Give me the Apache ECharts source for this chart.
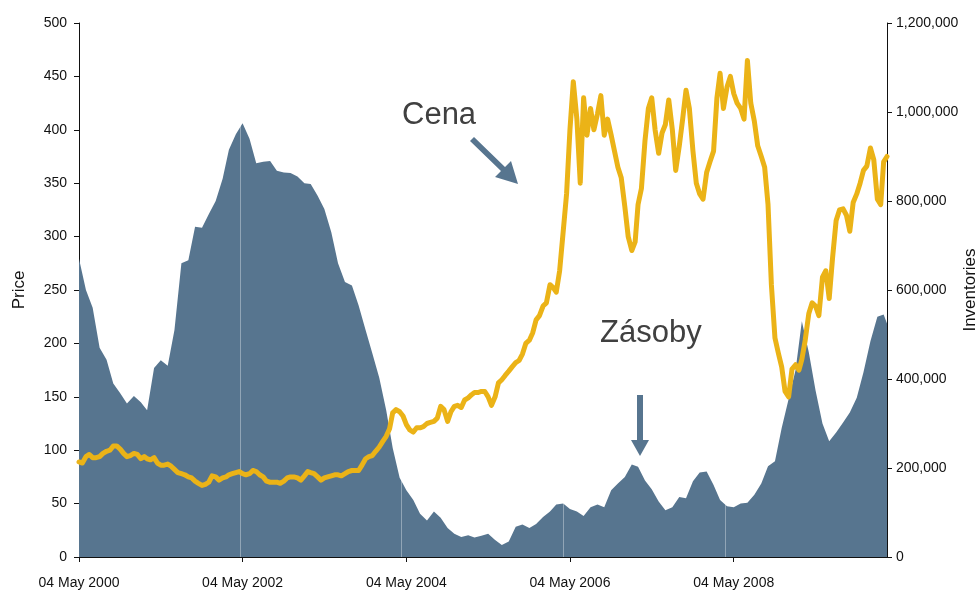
<!DOCTYPE html>
<html>
<head>
<meta charset="utf-8">
<script src="https://cdn.jsdelivr.net/npm/echarts@6/dist/echarts.min.js"></script>
<style>
  html, body { margin: 0; padding: 0; background: #fff; }
  #chart { width: 980px; height: 590px; }
</style>
</head>
<body>
<div id="chart"></div>
<script>
// price, sampled twice a month (4th and 19th) from 04 May 2000
const priceValues = [
  89, 88, 94, 96, 93, 93, 94, 97, 99, 100,
  104, 104, 101, 97, 94, 95, 97, 96, 92, 94,
  92, 91, 93, 88, 86, 86, 87, 85, 82, 79,
  78, 77, 75, 74, 71, 69, 67, 68, 70, 76,
  75, 72, 74, 75, 77, 78, 79, 80, 78, 77,
  78, 81, 80, 77, 75, 71, 70, 70, 70, 69,
  71, 74, 75, 75, 74, 72, 76, 80, 79, 78,
  75, 72, 74, 75, 76, 77, 77, 76, 78, 80,
  81, 81, 81, 86, 92, 94, 95, 99, 103, 108,
  113, 120, 135, 138, 136, 132, 124, 119, 117, 121,
  121, 122, 125, 126, 127, 130, 141, 138, 127, 136,
  141, 142, 140, 147, 149, 152, 154, 154, 155, 155,
  150, 142, 150, 163, 166, 170, 174, 178, 182, 184,
  190, 200, 203, 210, 222, 226, 235, 238, 255, 252,
  248, 268, 305, 340, 400, 445, 410, 350, 430, 395,
  420, 400, 415, 432, 395, 410, 395, 380, 365, 355,
  328, 300, 287, 295, 330, 345, 390, 420, 430, 400,
  378, 397, 405, 428, 400, 362, 385, 410, 437, 420,
  380, 350, 340, 335, 360, 370, 380, 430, 453, 420,
  440, 450, 434, 425, 420, 410, 465, 425, 408, 385,
  375, 365, 330, 255, 205, 191, 178, 155, 150, 176,
  180, 175, 185, 203, 228, 238, 235, 226, 262, 268,
  242, 280, 315, 325, 326, 320, 305, 332, 340, 350,
  362, 366, 383, 372, 335, 330, 370, 375
];

// inventories, monthly (4th) from 04 May 2000, last one 19 Mar 2010
const inventoryValues = [
  670000, 600000, 560000, 470000, 443000, 390000, 368000, 345000, 362000, 348000,
  330000, 425000, 442000, 430000, 510000, 660000, 667000, 742000, 740000, 770000,
  800000, 850000, 915000, 950000, 975000, 940000, 885000, 888000, 890000, 868000,
  864000, 863000, 855000, 840000, 838000, 812000, 782000, 730000, 660000, 618000,
  610000, 565000, 510000, 458000, 403000, 330000, 245000, 178000, 150000, 128000,
  97000, 82000, 102000, 88000, 65000, 52000, 45000, 49000, 44000, 48000,
  52000, 38000, 27000, 35000, 68000, 73000, 65000, 74000, 90000, 102000,
  118000, 120000, 108000, 102000, 92000, 112000, 118000, 112000, 150000, 165000,
  180000, 208000, 203000, 172000, 152000, 125000, 105000, 112000, 135000, 132000,
  170000, 190000, 192000, 162000, 128000, 114000, 112000, 120000, 122000, 140000,
  165000, 204000, 215000, 290000, 355000, 420000, 530000, 460000, 375000, 300000,
  260000, 280000, 302000, 325000, 358000, 415000, 485000, 540000, 545000, 525000
];

const tickDates = ['2000-05-04', '2002-05-04', '2004-05-04', '2006-05-04', '2008-05-04'];
const gridDates = ['2002-04-22', '2004-04-12', '2006-04-04', '2008-03-27'];
const axisStart = '2000-05-04';
const axisEnd = '2010-03-19';
const monthNames = ['Jan', 'Feb', 'Mar', 'Apr', 'May', 'Jun', 'Jul', 'Aug', 'Sep', 'Oct', 'Nov', 'Dec'];

function toTime(s) {
  const p = s.split('-').map(Number);
  return new Date(p[0], p[1] - 1, p[2]).getTime();
}

const priceDates = priceValues.map((v, k) =>
  new Date(2000, 4 + Math.floor(k / 2), k % 2 ? 19 : 4).getTime());
const inventoryDates = inventoryValues.map((v, m) =>
  m < inventoryValues.length - 1 ? new Date(2000, 4 + m, 4).getTime() : toTime(axisEnd));

const FONT = 'Liberation Sans, Arial, sans-serif';
const BLUE = '#57758f';
const GOLD = '#ebb317';

function fmtDate(v) {
  const d = new Date(v);
  const dd = d.getDate() < 10 ? '0' + d.getDate() : '' + d.getDate();
  return dd + ' ' + monthNames[d.getMonth()] + ' ' + d.getFullYear();
}

function fmtThousands(v) {
  return String(v).replace(/\B(?=(\d{3})+(?!\d))/g, ',');
}

const chart = echarts.init(document.getElementById('chart'));

chart.setOption({
  animation: false,
  backgroundColor: '#fff',
  grid: { left: 79, right: 93, top: 23, bottom: 33, outerBoundsMode: 'none', containLabel: false },
  xAxis: {
    type: 'value',
    min: toTime(axisStart),
    max: toTime(axisEnd),
    axisLine: { lineStyle: { color: '#111', width: 1 } },
    axisTick: {
      show: true, length: 5, inside: false,
      customValues: tickDates.map(toTime),
      lineStyle: { color: '#111' }
    },
    axisLabel: {
      customValues: tickDates.map(toTime),
      formatter: fmtDate,
      color: '#111', fontFamily: FONT, fontSize: 14, margin: 19,
      showMinLabel: true, showMaxLabel: true, hideOverlap: false
    },
    splitLine: { show: false }
  },
  yAxis: [
    {
      type: 'value', min: 0, max: 500, interval: 50, position: 'left',
      name: 'Price', nameLocation: 'middle', nameGap: 51, nameMoveOverlap: false,
      nameTextStyle: { color: '#111', fontFamily: FONT, fontSize: 17 },
      axisLine: { show: true, lineStyle: { color: '#111' } },
      axisTick: { show: true, length: 5, lineStyle: { color: '#111' } },
      axisLabel: { color: '#111', fontFamily: FONT, fontSize: 14, margin: 12 },
      splitLine: { show: false }
    },
    {
      type: 'value', min: 0, max: 1200000, interval: 200000, position: 'right',
      name: 'Inventories', nameLocation: 'middle', nameGap: 75, nameMoveOverlap: false,
      nameTextStyle: { color: '#111', fontFamily: FONT, fontSize: 17 },
      axisLine: { show: true, lineStyle: { color: '#111' } },
      axisTick: { show: true, length: 5, lineStyle: { color: '#111' } },
      axisLabel: { color: '#111', fontFamily: FONT, fontSize: 14, margin: 9, formatter: fmtThousands },
      splitLine: { show: false }
    }
  ],
  series: [
    {
      name: 'Inventories',
      type: 'line',
      yAxisIndex: 1,
      data: inventoryValues.map((v, i) => [inventoryDates[i], v]),
      symbol: 'none',
      lineStyle: { width: 0 },
      areaStyle: { color: BLUE, opacity: 1 },
      itemStyle: { color: BLUE },
      z: 2,
      markLine: {
        silent: true,
        symbol: 'none',
        label: { show: false },
        lineStyle: { color: 'rgba(255,255,255,0.35)', width: 1, type: 'solid' },
        data: gridDates.map(d => ({ xAxis: toTime(d) }))
      }
    },
    {
      name: 'Price',
      type: 'line',
      yAxisIndex: 0,
      data: priceValues.map((v, i) => [priceDates[i], v]),
      symbol: 'none',
      lineStyle: { color: GOLD, width: 5, join: 'round', cap: 'round' },
      itemStyle: { color: GOLD },
      z: 10
    }
  ],
  graphic: [
    {
      type: 'text', left: 402, top: 100, z: 20,
      style: { text: 'Cena', fill: '#404040', font: '31px ' + FONT }
    },
    {
      type: 'text', left: 600, top: 318, z: 20,
      style: { text: 'Zásoby', fill: '#404040', font: '31px ' + FONT }
    },
    {
      // arrow to the price line
      type: 'polygon', z: 20,
      shape: { points: [[470, 141], [474, 137], [505, 167], [511, 161], [518, 184], [495, 177], [501, 171]] },
      style: { fill: BLUE }
    },
    {
      // arrow to the inventories
      type: 'polygon', z: 20,
      shape: { points: [[637, 395], [643, 395], [643, 440], [649, 440], [640, 456], [631, 440], [637, 440]] },
      style: { fill: BLUE }
    }
  ]
});
</script>
</body>
</html>
